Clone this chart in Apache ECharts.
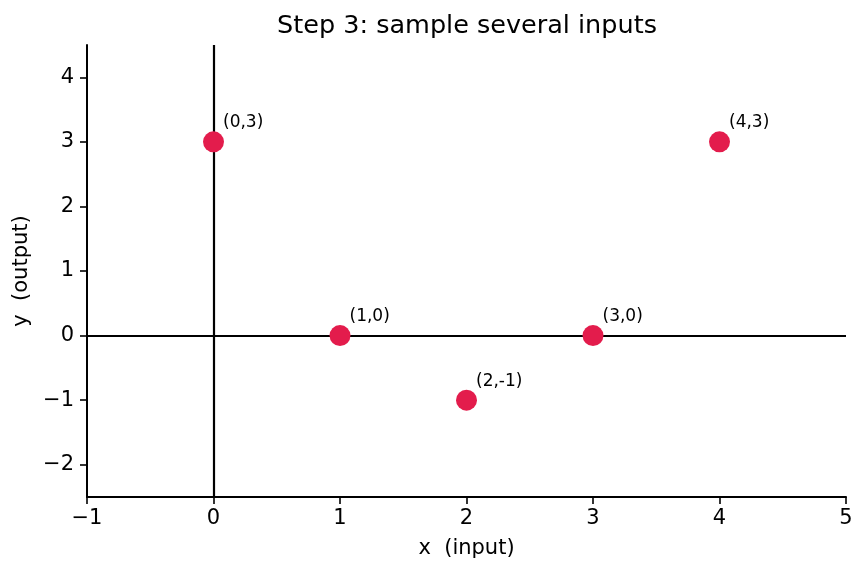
<!DOCTYPE html>
<html>
<head>
<meta charset="utf-8">
<script src="https://cdn.jsdelivr.net/npm/echarts@6/dist/echarts.min.js"></script>
<style>
html, body { margin: 0; padding: 0; background: #fff; }
#main { width: 867px; height: 573px; }
</style>
</head>
<body>
<div id="main"></div>
<script>
// sampled inputs and their outputs
var xs = [0, 1, 2, 3, 4];
var ys = [3, 0, -1, 0, 3];
var xTicks = [-1, 0, 1, 2, 3, 4, 5];
var yTicks = [-2, -1, 0, 1, 2, 3, 4];

var pts = [];
for (var i = 0; i < xs.length; i++) {
    pts.push({ value: [xs[i], ys[i]], name: '(' + xs[i] + ',' + ys[i] + ')' });
}

function minus(v) { return String(v).replace('-', '\u2212'); }

var font = 'DejaVu Sans';
var myChart = echarts.init(document.getElementById('main'));

var option = {
    animation: false,
    title: {
        text: 'Step 3: sample several inputs',
        left: 462,
        textAlign: 'center',
        top: 8,
        textStyle: { fontFamily: font, fontSize: 25.5, fontWeight: 'normal', color: '#000' }
    },
    grid: { left: 87, right: 21, top: 45, bottom: 76 },
    xAxis: {
        type: 'value',
        min: -1, max: 5, interval: 1,
        name: 'x  (input)',
        nameLocation: 'middle',
        nameGap: 41,
        nameTextStyle: { fontFamily: font, fontSize: 21, color: '#000' },
        axisLine: { onZero: false, lineStyle: { color: '#000', width: 2 } },
        axisTick: { show: true, length: 7, lineStyle: { color: '#000', width: 1.6 } },
        axisLabel: { fontFamily: font, fontSize: 21, color: '#000', margin: 11, formatter: minus },
        splitLine: { show: false }
    },
    yAxis: {
        type: 'value',
        min: -2.5, max: 4.5,
        name: 'y  (output)',
        nameLocation: 'middle',
        nameGap: 53,
        nameTextStyle: { fontFamily: font, fontSize: 21, color: '#000' },
        axisLine: { show: true, onZero: false, lineStyle: { color: '#000', width: 2 } },
        axisTick: { show: true, length: 7, lineStyle: { color: '#000', width: 1.6 }, customValues: yTicks },
        axisLabel: { fontFamily: font, fontSize: 21, color: '#000', margin: 13, formatter: minus, customValues: yTicks },
        splitLine: { show: false }
    },
    series: [{
        type: 'scatter',
        data: pts,
        symbolSize: 21,
        itemStyle: { color: '#E31C4C', opacity: 1 },
        label: {
            show: true,
            position: [20, -17],
            formatter: function (p) { return p.name; },
            fontFamily: font, fontSize: 17, color: '#000'
        },
        markLine: {
            silent: true,
            symbol: 'none',
            label: { show: false },
            lineStyle: { color: '#000', width: 2.2, type: 'solid' },
            data: [{ xAxis: 0 }, { yAxis: 0 }],
            z: 1
        },
        z: 3
    }]
};

myChart.setOption(option);
</script>
</body>
</html>
